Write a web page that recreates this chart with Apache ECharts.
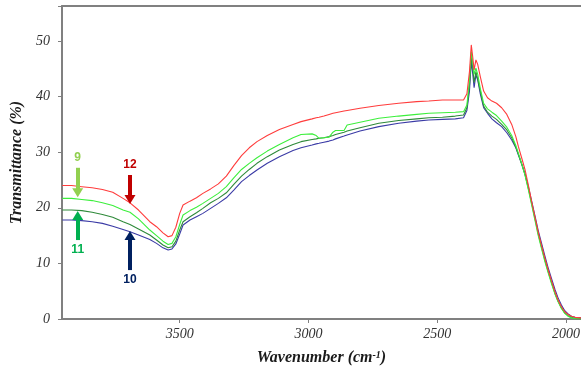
<!DOCTYPE html>
<html>
<head>
<meta charset="utf-8">
<script src="https://cdn.jsdelivr.net/npm/echarts@6/dist/echarts.min.js"></script>
<style>
html,body{margin:0;padding:0;background:#fff;}
#chart{width:581px;height:372px;}
</style>
</head>
<body>
<div id="chart"></div>
<script>
// Wavenumbers (cm-1) at which values were read
var wavenumbers = [3956, 3920, 3880, 3840, 3800, 3760, 3720, 3693, 3660, 3616, 3590, 3565, 3545, 3530, 3515, 3500, 3487, 3460, 3435, 3410, 3380, 3350, 3319, 3290, 3260, 3230, 3200, 3160, 3113, 3060, 3029, 2986, 2970, 2959, 2940, 2920, 2905, 2895, 2862, 2850, 2800, 2727, 2650, 2580, 2533, 2480, 2430, 2398, 2385, 2375, 2368, 2362, 2357, 2350, 2343, 2333, 2320, 2305, 2288, 2270, 2250, 2230, 2211, 2195, 2185, 2170, 2159, 2146, 2134, 2120, 2108, 2095, 2082, 2070, 2056, 2043, 2031, 2018, 2005, 1992, 1979, 1965, 1942];

// Transmittance (%) per sample
var sample12 = [24.0, 24.0, 23.8, 23.6, 23.3, 22.8, 21.7, 20.9, 19.6, 17.5, 16.6, 15.5, 14.8, 15.0, 16.5, 19.0, 20.5, 21.2, 21.8, 22.6, 23.4, 24.3, 25.7, 27.6, 29.4, 30.8, 31.9, 33.0, 34.1, 35.0, 35.5, 36.0, 36.2, 36.3, 36.5, 36.8, 37.0, 37.1, 37.4, 37.5, 37.9, 38.4, 38.8, 39.1, 39.2, 39.4, 39.4, 39.4, 40.5, 44.5, 49.3, 47.0, 44.8, 46.6, 45.8, 43.6, 41.0, 39.8, 39.2, 38.8, 38.0, 36.8, 35.0, 32.8, 31.0, 28.6, 26.8, 24.0, 21.2, 18.2, 15.6, 13.2, 10.9, 8.9, 6.8, 4.9, 3.4, 2.2, 1.3, 0.8, 0.5, 0.3, 0.2];
var sample9 = [21.7, 21.7, 21.5, 21.3, 20.9, 20.4, 19.6, 19.2, 18.0, 16.0, 15.0, 14.0, 13.4, 13.6, 14.8, 17.0, 18.7, 19.5, 20.1, 20.8, 21.7, 22.6, 23.8, 25.4, 26.9, 28.0, 29.0, 30.2, 31.4, 32.6, 33.2, 33.3, 33.0, 32.5, 32.6, 32.7, 33.6, 33.9, 33.9, 34.9, 35.4, 36.1, 36.5, 36.8, 37.0, 37.1, 37.2, 37.3, 38.5, 43.0, 48.1, 46.0, 44.0, 45.1, 44.0, 41.5, 38.8, 37.8, 37.2, 36.6, 35.6, 34.5, 33.0, 31.2, 29.8, 27.6, 25.8, 23.2, 20.6, 17.6, 15.0, 12.6, 10.3, 8.4, 6.3, 4.5, 3.1, 1.9, 1.0, 0.5, 0.2, 0.1, 0.0];
var sample11 = [19.6, 19.6, 19.5, 19.2, 18.8, 18.3, 17.5, 17.0, 16.2, 15.1, 14.2, 13.3, 12.8, 13.0, 14.0, 16.0, 17.5, 18.4, 19.1, 19.9, 20.9, 21.7, 22.7, 24.2, 25.7, 26.9, 28.0, 29.2, 30.4, 31.4, 31.9, 32.3, 32.4, 32.5, 32.6, 32.8, 33.0, 33.2, 33.6, 33.8, 34.4, 35.2, 35.7, 36.0, 36.2, 36.3, 36.5, 36.7, 38.0, 42.0, 47.2, 45.0, 42.5, 44.5, 43.2, 41.0, 38.3, 37.2, 36.5, 35.9, 35.0, 34.0, 32.6, 30.9, 29.6, 27.5, 25.9, 23.4, 20.9, 17.9, 15.3, 12.9, 10.6, 8.6, 6.5, 4.6, 3.2, 2.0, 1.1, 0.6, 0.3, 0.1, 0.0];
var sample10 = [17.8, 17.8, 17.7, 17.5, 17.2, 16.7, 16.1, 15.7, 15.1, 14.3, 13.6, 12.8, 12.4, 12.6, 13.5, 15.3, 16.9, 17.8, 18.4, 19.0, 19.9, 20.8, 21.8, 23.2, 24.7, 25.8, 26.8, 28.0, 29.2, 30.3, 30.8, 31.3, 31.5, 31.6, 31.8, 32.0, 32.2, 32.4, 32.9, 33.1, 33.8, 34.6, 35.2, 35.6, 35.8, 35.9, 36.0, 36.2, 37.5, 41.0, 46.3, 44.0, 41.6, 43.9, 43.0, 40.5, 38.0, 37.0, 36.0, 35.3, 34.6, 33.5, 32.2, 30.8, 29.5, 27.6, 26.1, 23.7, 21.3, 18.4, 15.9, 13.6, 11.3, 9.3, 7.2, 5.3, 3.8, 2.5, 1.5, 0.9, 0.5, 0.3, 0.2];

var xTicks = [2000, 2500, 3000, 3500];
var yTicks = [0, 10, 20, 30, 40, 50];

// Arrow annotations: label, wavenumber, start value, end value
var arrowLabels = ['9', '11', '12', '10'];
var arrowWn = [3896, 3896, 3693, 3693];
var arrowFrom = [27.2, 14.2, 25.9, 8.8];
var arrowTo = [22.7, 18.6, 21.5, 15.0];

function pairs(vals) {
  return wavenumbers.map(function (w, i) { return [w, vals[i]]; });
}

function arrow(i, color) {
  return {
    silent: true,
    animation: false,
    symbol: ['none', 'triangle'],
    symbolSize: [11, 9],
    lineStyle: { color: color, width: 4, type: 'solid' },
    label: {
      show: true, position: 'start', distance: 4,
      formatter: arrowLabels[i],
      color: color, fontFamily: 'Liberation Sans', fontWeight: 'bold', fontSize: 12
    },
    emphasis: { disabled: true },
    data: [[{ coord: [arrowWn[i], arrowFrom[i]] }, { coord: [arrowWn[i], arrowTo[i]] }]]
  };
}

var axisColor = '#808080';
var chart = echarts.init(document.getElementById('chart'), null, { renderer: 'canvas' });

function lineSeries(name, vals, color, arrowIdx, arrowColor) {
  var s = {
    name: name, type: 'line', data: pairs(vals), showSymbol: false, symbol: 'none',
    smooth: false, animation: false,
    lineStyle: { color: color, width: 1.1 },
    itemStyle: { color: color }
  };
  if (arrowIdx != null) s.markLine = arrow(arrowIdx, arrowColor);
  return s;
}

var nameFont = { fontFamily: 'Liberation Serif', fontStyle: 'italic', fontWeight: 'bold', fontSize: 16, color: '#1a1a1a' };

chart.setOption({
  backgroundColor: '#ffffff',
  animation: false,
  grid: { left: 62, right: 0, top: 6, bottom: 53, containLabel: false, outerBoundsMode: 'none' },
  xAxis: [{
    type: 'value', min: 1942, max: 3957, inverse: true,
    name: 'Wavenumber (cm{sup|-1})', nameLocation: 'middle', nameGap: 31,
    nameTextStyle: Object.assign({}, nameFont, {
      rich: { sup: { fontFamily: 'Liberation Serif', fontStyle: 'italic', fontWeight: 'bold', fontSize: 10, color: '#1a1a1a', verticalAlign: 'top', padding: [0, 0, 6, 0] } }
    }),
    axisLine: { show: true, lineStyle: { color: axisColor, width: 2 } },
    axisTick: { show: true, length: 4, customValues: xTicks, lineStyle: { color: axisColor, width: 1 } },
    axisLabel: { customValues: xTicks, margin: 8, fontFamily: 'Liberation Serif', fontStyle: 'italic', fontSize: 14, color: '#333',
      formatter: function (v) { return String(v); } },
    splitLine: { show: false }
  }, {
    type: 'value', position: 'top', min: 1942, max: 3957, inverse: true,
    axisLine: { show: true, lineStyle: { color: axisColor, width: 2 } },
    axisTick: { show: false }, axisLabel: { show: false }, splitLine: { show: false }
  }],
  yAxis: {
    type: 'value', min: 0, max: 56.3, interval: 10,
    name: 'Transmittance (%)', nameLocation: 'middle', nameGap: 35,
    nameTextStyle: nameFont,
    axisLine: { show: true, lineStyle: { color: axisColor, width: 2 } },
    axisTick: { show: true, length: 4, lineStyle: { color: axisColor, width: 1 } },
    axisLabel: { margin: 12, fontFamily: 'Liberation Serif', fontStyle: 'italic', fontSize: 14, color: '#333',
      formatter: function (v) { return yTicks.indexOf(v) >= 0 ? String(v) : ''; } },
    splitLine: { show: false }
  },
  series: [
    lineSeries('10', sample10, '#3b3ba6', 3, '#002060'),
    lineSeries('11', sample11, '#2f8a3a', 1, '#00b050'),
    lineSeries('9', sample9, '#3cef3c', 0, '#92d050'),
    lineSeries('12', sample12, '#ff3c3c', 2, '#c00000')
  ]
});
</script>
</body>
</html>
